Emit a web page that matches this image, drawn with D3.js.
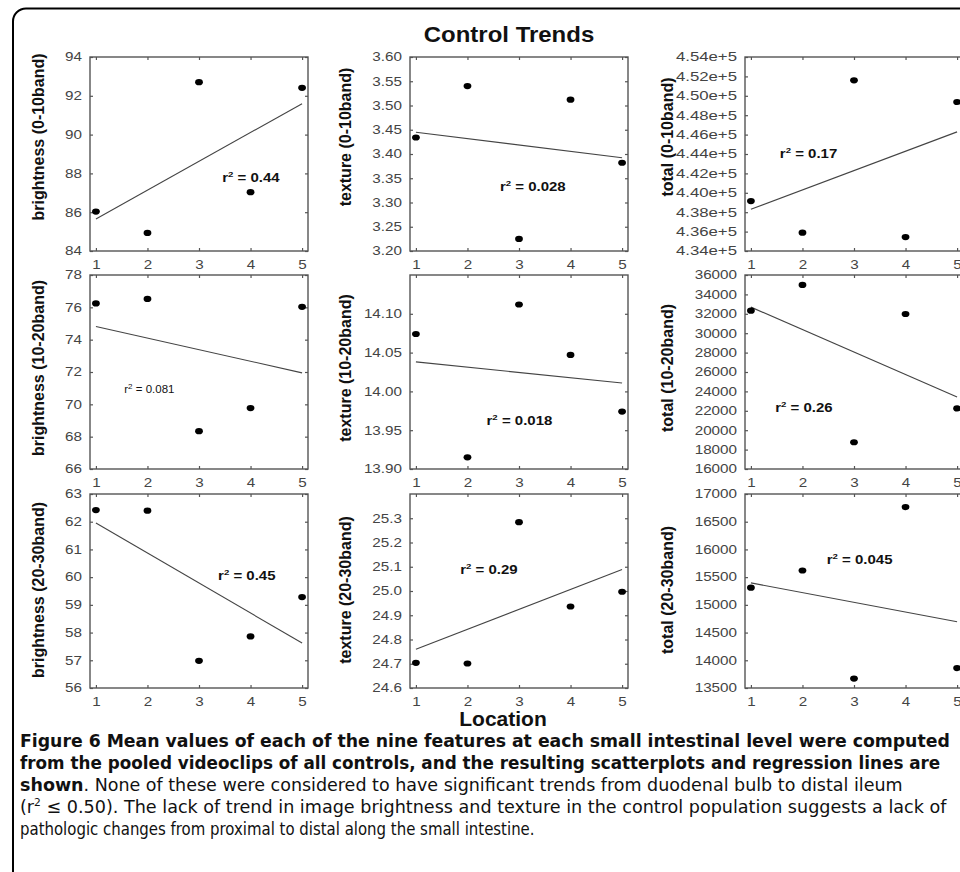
<!DOCTYPE html>
<html>
<head>
<meta charset="utf-8">
<script src="https://cdn.jsdelivr.net/npm/d3@7"></script>
<style>
  body { margin: 0; background: #fff; }
  svg { display: block; font-family: "Liberation Sans", Arial, sans-serif; }
  .caption { font-stretch: condensed; }
</style>
</head>
<body>
<svg width="960" height="872"></svg>
<script>
// location along the small intestine (x for every panel)
var locations = [1, 2, 3, 4, 5];

// mean values, one array per panel
var brightness_0_10 = [86.03, 84.93, 92.70, 87.03, 92.41];
var texture_0_10    = [3.434, 3.540, 3.225, 3.512, 3.382];
var total_0_10      = [439150, 435890, 451600, 435440, 449360];
var brightness_10_20 = [76.24, 76.52, 68.34, 69.77, 76.03];
var texture_10_20    = [14.074, 13.915, 14.112, 14.047, 13.974];
var total_10_20      = [32320, 34980, 18760, 31980, 22240];
var brightness_20_30 = [62.42, 62.40, 56.98, 57.86, 59.28];
var texture_20_30    = [24.704, 24.701, 25.284, 24.936, 24.997];
var total_20_30      = [15310, 15620, 13670, 16765, 13860];

// y tick labels of each panel
var ticks_b1 = [84, 86, 88, 90, 92, 94];
var ticks_t1 = [3.20, 3.25, 3.30, 3.35, 3.40, 3.45, 3.50, 3.55, 3.60];
var ticks_n1 = [434000, 436000, 438000, 440000, 442000, 444000, 446000, 448000, 450000, 452000, 454000];
var ticks_b2 = [66, 68, 70, 72, 74, 76, 78];
var ticks_t2 = [13.90, 13.95, 14.00, 14.05, 14.10];
var ticks_n2 = [16000, 18000, 20000, 22000, 24000, 26000, 28000, 30000, 32000, 34000, 36000];
var ticks_b3 = [56, 57, 58, 59, 60, 61, 62, 63];
var ticks_t3 = [24.6, 24.7, 24.8, 24.9, 25.0, 25.1, 25.2, 25.3];
var ticks_n3 = [13500, 14000, 14500, 15000, 15500, 16000, 16500, 17000];

var r2Labels = ["0.44", "0.028", "0.17", "0.081", "0.018", "0.26", "0.45", "0.29", "0.045"];

var bands = ["0-10band", "10-20band", "20-30band"];
var features = ["brightness", "texture", "total"];

var fmt2 = function(d) { return d.toFixed(2); },
    fmt1 = function(d) { return d.toFixed(1); },
    fmtE = function(d) { return (d / 1e5).toFixed(2) + "e+5"; },
    fmtI = d3.format("d");

var panels = [
  {values: brightness_0_10, ticks: ticks_b1, domain: [84, 94], fmt: fmtI},
  {values: texture_0_10, ticks: ticks_t1, domain: [3.20, 3.60], fmt: fmt2},
  {values: total_0_10, ticks: ticks_n1, domain: [434000, 454000], fmt: fmtE},
  {values: brightness_10_20, ticks: ticks_b2, domain: [66, 78], fmt: fmtI},
  {values: texture_10_20, ticks: ticks_t2, domain: [13.90, 14.15], fmt: fmt2},
  {values: total_10_20, ticks: ticks_n2, domain: [16000, 36000], fmt: fmtI},
  {values: brightness_20_30, ticks: ticks_b3, domain: [56, 63], fmt: fmtI},
  {values: texture_20_30, ticks: ticks_t3, domain: [24.6, 25.4], fmt: fmt1},
  {values: total_20_30, ticks: ticks_n3, domain: [13500, 17000], fmt: fmtI}
];

// where the r2 note sits, in data units of its panel
var r2Anchor = [[3.45, 87.8], [2.63, 3.333], [1.56, 444100], [1.55, 70.9], [2.37, 13.962],
                [1.47, 22360], [3.37, 60.05], [1.86, 25.09], [2.47, 15820]];

// layout
var colLeft = [90, 410, 745], rowTop = [57, 275, 494],
    W = 218, H = 194,
    titleX = [38, 345, 667], titleY = [137, 368, 590],
    frameColor = "#555", labelColor = "#444";

var svg = d3.select("svg");

function place(t, sx) {
  var x = +t.attr("x") || 0,
      y = +t.attr("y") || 0;
  t.attr("x", 0).attr("y", 0)
    .attr("transform", "translate(" + x + "," + y + ") scale(" + sx + ",1)");
}

// the glyphs of the original are wider than a normal sans, so stretch text sideways
function stretch(sel, sx) {
  sel.each(function() { place(d3.select(this), sx); });
}

// tick labels: squeeze/stretch each to the width it has in the figure
var charW = {".": 0.278, "e": 0.556, "+": 0.584, "-": 0.333};
function fitTicks(sel, size, k) {
  sel.each(function() {
    var t = d3.select(this), s = t.text(), target = 0;
    for (var c = 0; c < s.length; c++) target += charW[s[c]] || 0.556;
    target *= size * k;
    var w = this.getComputedTextLength();
    if (w > 0) place(t, target / w);
  });
}

// rounded figure border, running off the right and bottom edges
svg.append("rect")
  .attr("x", 13).attr("y", 8.5)
  .attr("width", 1200).attr("height", 1200)
  .attr("rx", 13)
  .attr("fill", "none")
  .attr("stroke", "#000")
  .attr("stroke-width", 2);

panels.forEach(function(p, i) {
  var row = Math.floor(i / 3), col = i % 3,
      left = colLeft[col], top = rowTop[row];

  var x = d3.scaleLinear().domain([0.885, 5.115]).range([0, W]),
      y = d3.scaleLinear().domain(p.domain).range([H, 0]);

  var g = svg.append("g").attr("transform", "translate(" + left + "," + top + ")");

  // ticks on all four sides, pointing inward
  var yAx = g.append("g").call(d3.axisLeft(y).tickValues(p.ticks).tickFormat(p.fmt)
    .tickSizeInner(-3).tickSizeOuter(0).tickPadding(8));
  var xAx = g.append("g").attr("transform", "translate(0," + H + ")")
    .call(d3.axisBottom(x).tickValues(locations).tickFormat(fmtI)
    .tickSizeInner(-3).tickSizeOuter(0).tickPadding(9));
  g.append("g").call(d3.axisTop(x).tickValues(locations).tickFormat("").tickSizeInner(-3).tickSizeOuter(0));
  g.append("g").attr("transform", "translate(" + W + ",0)")
    .call(d3.axisRight(y).tickValues(p.ticks).tickFormat("").tickSizeInner(-3).tickSizeOuter(0));

  g.selectAll(".domain").remove();
  g.selectAll(".tick line").attr("stroke", frameColor).attr("stroke-width", 1.2);
  g.selectAll(".tick text")
    .attr("font-family", "'Liberation Sans', Arial, sans-serif")
    .attr("font-size", 12)
    .attr("fill", labelColor);
  fitTicks(yAx.selectAll(".tick text"), 12, p.fmt === fmtE ? 1.4 : 1.27);
  fitTicks(xAx.selectAll(".tick text"), 12, 1.27);

  g.append("rect")
    .attr("width", W).attr("height", H)
    .attr("fill", "none")
    .attr("stroke", frameColor)
    .attr("stroke-width", 1.4);

  // least-squares regression line over locations 1..5
  var mx = d3.mean(locations), my = d3.mean(p.values),
      sxy = d3.sum(locations, function(l, k) { return (l - mx) * (p.values[k] - my); }),
      sxx = d3.sum(locations, function(l) { return (l - mx) * (l - mx); }),
      slope = sxy / sxx, icpt = my - slope * mx;

  g.append("line")
    .attr("x1", x(1)).attr("y1", y(icpt + slope * 1))
    .attr("x2", x(5)).attr("y2", y(icpt + slope * 5))
    .attr("stroke", "#444")
    .attr("stroke-width", 1.1);

  g.selectAll("ellipse")
    .data(p.values)
    .enter().append("ellipse")
    .attr("cx", function(d, k) { return x(locations[k]); })
    .attr("cy", function(d) { return y(d); })
    .attr("rx", 3.9).attr("ry", 3.1)
    .attr("fill", "#000");

  // r2 note
  var small = (i === 3);
  var note = g.append("text")
    .attr("x", x(r2Anchor[i][0])).attr("y", y(r2Anchor[i][1]))
    .attr("dy", "0.36em")
    .attr("font-size", small ? 10 : 12.5)
    .attr("font-weight", small ? "normal" : "bold")
    .attr("fill", "#111");
  note.append("tspan").text("r");
  note.append("tspan").attr("font-size", small ? 7 : 8).attr("dy", small ? -4 : -5).text("2");
  note.append("tspan").attr("dy", small ? 4 : 5).text(" = " + r2Labels[i]);
  stretch(note, small ? 1.15 : 1.2);

  // y title
  svg.append("text")
    .attr("transform", "translate(" + titleX[col] + "," + titleY[row] + ") rotate(-90)")
    .attr("text-anchor", "middle")
    .attr("dy", "0.35em")
    .attr("font-size", 16)
    .attr("font-weight", "bold")
    .attr("fill", "#111")
    .text(features[col] + " (" + bands[row] + ")");
});

var title = svg.append("text")
  .attr("x", 509).attr("y", 41.7)
  .attr("text-anchor", "middle")
  .attr("font-size", 22)
  .attr("font-weight", "bold")
  .attr("fill", "#111")
  .text("Control Trends");
stretch(title, 1.09);

svg.append("text")
  .attr("x", 503).attr("y", 725.7)
  .attr("text-anchor", "middle")
  .attr("font-size", 21)
  .attr("font-weight", "bold")
  .attr("fill", "#111")
  .text("Location");

// caption
var captionLines = [
  [{t: "Figure 6 Mean values of each of the nine features at each small intestinal level were computed", b: true}],
  [{t: "from the pooled videoclips of all controls, and the resulting scatterplots and regression lines are", b: true}],
  [{t: "shown", b: true}, {t: ". None of these were considered to have significant trends from duodenal bulb to distal ileum", b: false}],
  [{t: "(r", b: false}, {t: "2", b: false, sup: true}, {t: " \u2264 0.50). The lack of trend in image brightness and texture in the control population suggests a lack of", b: false}],
  [{t: "pathologic changes from proximal to distal along the small intestine.", b: false}]
];
var captionWidth = [930, 921, 883, 927, 515],
    captionBase = [747, 769, 791, 813, 835];

captionLines.forEach(function(segs, i) {
  var t = svg.append("text")
    .attr("class", "caption")
    .attr("x", 20).attr("y", captionBase[i])
    .attr("font-family", "'Liberation Sans Narrow', 'DejaVu Sans Condensed', 'DejaVu Sans', sans-serif")
    .attr("font-size", 18)
    .attr("fill", "#111");
  var lift = 0;
  segs.forEach(function(s) {
    var ts = t.append("tspan")
      .attr("font-weight", s.b ? "bold" : "normal")
      .text(s.t);
    if (s.sup) { ts.attr("font-size", 11).attr("dy", -7); lift = 7; }
    else if (lift) { ts.attr("dy", lift); lift = 0; }
  });
  var w = t.node().getComputedTextLength();
  place(t, captionWidth[i] / w);
});
</script>
</body>
</html>
